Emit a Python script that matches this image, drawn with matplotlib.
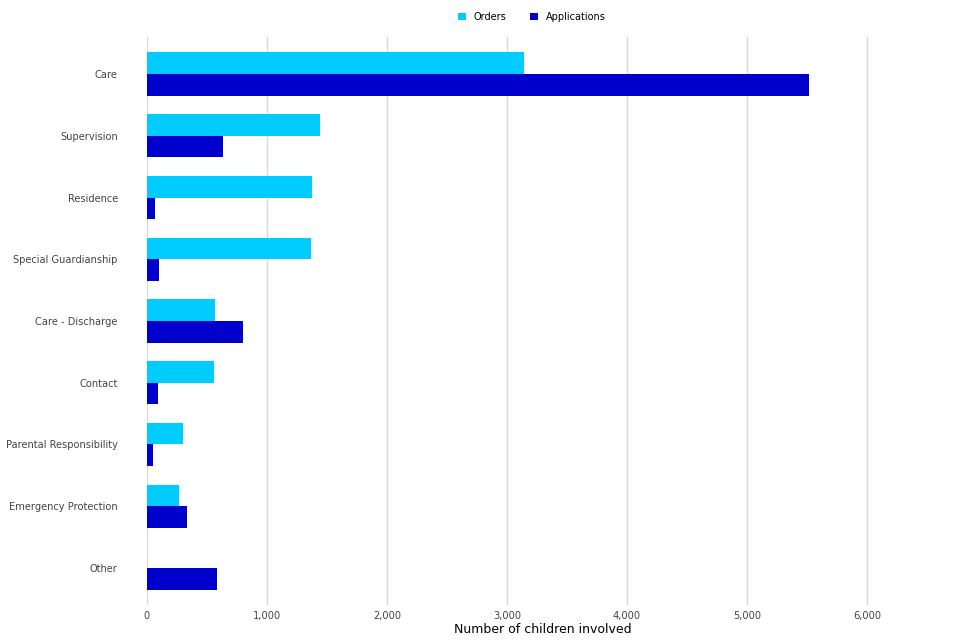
import numpy as np
import matplotlib.pyplot as plt

categories = ["Care", "Supervision", "Residence", "Special Guardianship",
              "Care - Discharge", "Contact", "Parental Responsibility",
              "Emergency Protection", "Other"]
orders = [3140, 1440, 1375, 1365, 565, 558, 300, 265, 0]
applications = [5520, 633, 67, 100, 800, 92, 48, 333, 583]

fig = plt.figure(figsize=(9.6, 6.4), dpi=100)
ax = fig.add_axes([147 / 960, 1 - 605 / 640, (939 - 147) / 960, (605 - 37) / 640])

y = np.arange(len(categories))
h = 0.35
ax.barh(y - h / 2, orders, height=h, color="#00ccff", label="Orders", zorder=2)
ax.barh(y + h / 2, applications, height=h, color="#0000cc", label="Applications", zorder=2)

ax.set_xlim(0, 6600)
ax.set_ylim(len(categories) - 0.4, -0.6)
ax.set_yticks(y)
ax.set_yticklabels(categories)
ax.set_xticks(range(0, 7000, 1000))
ax.set_xticklabels([f"{v:,}" for v in range(0, 7000, 1000)])
ax.tick_params(axis="both", length=0, labelsize=7.1, labelcolor="#444444")
ax.tick_params(axis="y", pad=21)
ax.tick_params(axis="x", pad=4)
ax.grid(axis="x", color="#d9d9d9", linewidth=1, zorder=0)
for s in ax.spines.values():
    s.set_visible(False)
ax.set_xlabel("Number of children involved", fontsize=9, labelpad=1.5)

fig.legend(loc="upper center", bbox_to_anchor=(0.554, 0.995), ncol=2, frameon=False,
           fontsize=7, handlelength=0.8, handleheight=0.8, columnspacing=2.5)

fig.savefig("out.png")
